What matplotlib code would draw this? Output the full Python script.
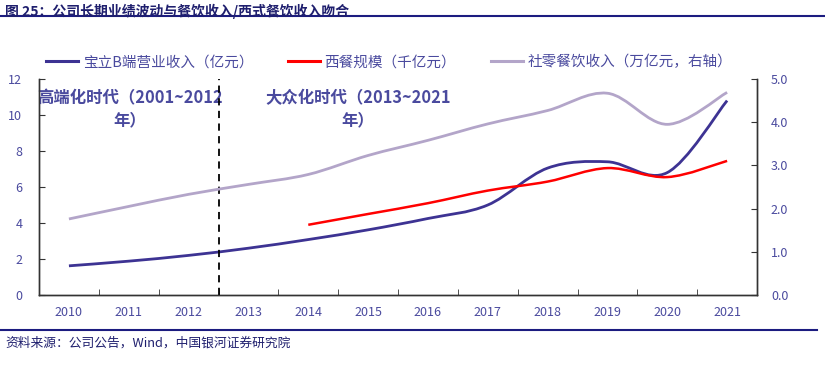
import numpy as np
import matplotlib
matplotlib.use("Agg")
import matplotlib.pyplot as plt
from matplotlib.path import Path
from matplotlib.patches import PathPatch
from matplotlib.lines import Line2D

plt.rcParams['font.family'] = ['Noto Sans CJK SC', 'DejaVu Sans']

# data
years = ['2010', '2011', '2012', '2013', '2014', '2015', '2016', '2017', '2018', '2019', '2020', '2021']
baoli_b = [1.62, 1.88, 2.2, 2.6, 3.08, 3.62, 4.25, 5.0, 7.05, 7.4, 6.8, 10.8]       # 亿元
western = [None, None, None, None, 3.9, 4.5, 5.1, 5.8, 6.3, 7.05, 6.55, 7.45]       # 千亿元
catering = [1.76, 2.05, 2.33, 2.56, 2.79, 3.23, 3.58, 3.96, 4.27, 4.67, 3.95, 4.69]  # 万亿元, right axis

labels = ['宝立B端营业收入（亿元）', '西餐规模（千亿元）', '社零餐饮收入（万亿元，右轴）']
era_1 = '高端化时代（2001~2012\n年）'
era_2 = '大众化时代（2013~2021\n年）'

c_dark = '#3d3393'
c_red = '#ff0000'
c_lilac = '#b3a5c9'
c_text = '#4a4a9e'
c_navy = '#1f1f6e'


def smooth(ax, y, color, lw):
    # Excel style smoothed line drawn as cubic bezier path in data coords
    pts = [(i, v) for i, v in enumerate(y) if v is not None]
    x = [p[0] for p in pts]
    v = [p[1] for p in pts]
    n = len(x)
    verts = [(x[0], v[0])]
    codes = [Path.MOVETO]
    for i in range(n - 1):
        a = i - 1 if i > 0 else i
        b = i + 2 if i + 2 < n else i + 1
        c1 = (x[i] + (x[i + 1] - x[a]) / 6, v[i] + (v[i + 1] - v[a]) / 6)
        c2 = (x[i + 1] - (x[b] - x[i]) / 6, v[i + 1] - (v[b] - v[i]) / 6)
        verts += [c1, c2, (x[i + 1], v[i + 1])]
        codes += [Path.CURVE4] * 3
    ax.add_patch(PathPatch(Path(verts, codes), fill=False, edgecolor=color,
                           lw=lw, capstyle='butt', joinstyle='round', zorder=3))


fig = plt.figure(figsize=(8.25, 3.65), dpi=100)
ax = fig.add_axes([0.0473, 0.1918, 0.8703, 0.5918])
ax2 = ax.twinx()

xpos = np.arange(len(years))
smooth(ax2, catering, c_lilac, 2.0)
smooth(ax, baoli_b, c_dark, 2.0)
smooth(ax, western, c_red, 1.8)

ax.set_xlim(-0.5, len(years) - 0.5)
ax.set_ylim(0, 12)
ax2.set_ylim(0, 5)
ax.set_yticks(range(0, 13, 2))
ax2.set_yticks(np.arange(0, 5.1, 1.0))
ax2.set_yticklabels([f'{t:.1f}' for t in np.arange(0, 5.1, 1.0)])

ax.set_xticks(xpos)
ax.set_xticklabels(years)
ax.set_xticks(np.arange(-0.5, len(years), 1.0), minor=True)
ax.tick_params(axis='x', which='major', length=0, pad=8, labelsize=9, labelcolor=c_text)
ax.tick_params(axis='x', which='minor', direction='in', length=4, color='#333333')
ax.tick_params(axis='y', direction='in', length=4, labelsize=9, labelcolor=c_text, pad=12, color='#333333')
ax2.tick_params(axis='y', direction='in', length=4, labelsize=9, labelcolor=c_text, pad=10, color='#333333')

for a in (ax, ax2):
    a.spines['top'].set_visible(False)
    for s in ('left', 'right', 'bottom'):
        a.spines[s].set_color('#333333')
        a.spines[s].set_linewidth(1.0)

ax.axvline(2.5, color='black', ls=(0, (4, 3)), lw=1.3, zorder=4)

ax.text(1.02, 10.3, era_1, ha='center', va='center', fontsize=11.8, fontweight='bold',
        color=c_text, linespacing=1.3)
ax.text(4.83, 10.3, era_2, ha='center', va='center', fontsize=11.8, fontweight='bold',
        color=c_text, linespacing=1.3)

handles = [Line2D([], [], color=c_dark, lw=2.2),
           Line2D([], [], color=c_red, lw=2.2),
           Line2D([], [], color=c_lilac, lw=2.2)]
fig.legend(handles, labels, loc='center left', bbox_to_anchor=(0.056, 0.83), ncol=3,
           frameon=False, fontsize=10.5, handlelength=2.2, handletextpad=0.3,
           columnspacing=2.4, labelcolor=c_text, borderaxespad=0, borderpad=0)

fig.text(0.006, 0.99, '图 25：公司长期业绩波动与餐饮收入/西式餐饮收入吻合', ha='left', va='top',
         fontsize=10, fontweight='bold', color=c_navy)
fig.add_artist(Line2D([0, 1], [0.957, 0.957], color='#1c1c80', lw=1.5, transform=fig.transFigure))
fig.add_artist(Line2D([0, 0.99], [0.096, 0.096], color='#1c1c80', lw=1.5, transform=fig.transFigure))
fig.text(0.006, 0.06, '资料来源：公司公告，Wind，中国银河证券研究院', ha='left', va='center',
         fontsize=9.2, style='italic', color=c_navy)

fig.savefig('out.png', dpi=100)
